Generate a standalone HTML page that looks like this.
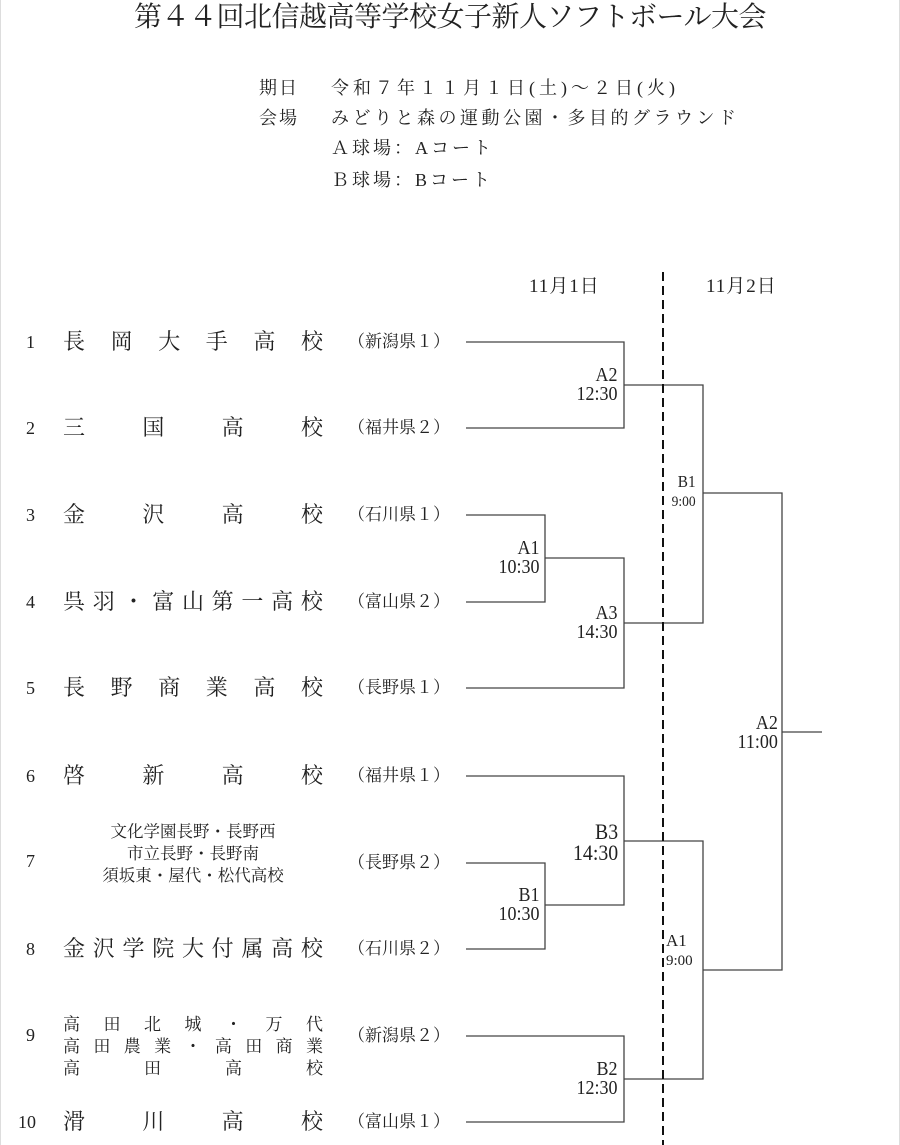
<!DOCTYPE html>
<html><head><meta charset="utf-8"><style>
body{margin:0;background:#fff;}
#p{position:relative;width:900px;height:1145px;overflow:hidden;font-family:"Liberation Serif","Noto Serif CJK SC",serif;color:#222;border-left:1px solid #ddd;border-right:1px solid #ddd;box-sizing:border-box}
.a{position:absolute;white-space:nowrap;line-height:1}
.nm{position:absolute;left:62px;width:260px;display:flex;justify-content:space-between;font-size:22px;line-height:1}
.num{position:absolute;font-size:18px;line-height:1;font-family:"Liberation Serif",serif}
.pf{position:absolute;left:347px;font-size:17px;line-height:1;letter-spacing:0px}
.lb{position:absolute;text-align:right;font-size:20px;line-height:19px;font-family:"Liberation Serif",serif;transform:scaleX(0.9);transform-origin:right}
</style></head><body><div id="p">
<div class="a" style="left:133px;top:4px;font-size:28px;letter-spacing:-0.5px">第４４回北信越高等学校女子新人ソフトボール大会</div>
<div class="a" style="left:258px;top:79px;font-size:18px;letter-spacing:2px">期日</div>
<div class="a" style="left:330px;top:79px;font-size:18px;letter-spacing:4px">令和７年１１月１日(土)～２日(火)</div>
<div class="a" style="left:258px;top:109px;font-size:18px;letter-spacing:2px">会場</div>
<div class="a" style="left:330px;top:109px;font-size:18px;letter-spacing:3.5px">みどりと森の運動公園・多目的グラウンド</div>
<div class="a" style="left:330px;top:139px;font-size:18px;letter-spacing:3px">Ａ球場：Aコート</div>
<div class="a" style="left:330px;top:171px;font-size:18px;letter-spacing:3px">Ｂ球場：Bコート</div>
<div class="a" style="left:528px;top:277px;font-size:19px;letter-spacing:1px">11月1日</div>
<div class="a" style="left:705px;top:277px;font-size:19px;letter-spacing:1px">11月2日</div>

<div class="num" style="left:25px;top:333px">1</div><div class="nm" style="top:331px"><span>長</span><span>岡</span><span>大</span><span>手</span><span>高</span><span>校</span></div><div class="pf" style="top:333px">（新潟県１）</div>
<div class="num" style="left:25px;top:419px">2</div><div class="nm" style="top:417px"><span>三</span><span>国</span><span>高</span><span>校</span></div><div class="pf" style="top:419px">（福井県２）</div>
<div class="num" style="left:25px;top:506px">3</div><div class="nm" style="top:504px"><span>金</span><span>沢</span><span>高</span><span>校</span></div><div class="pf" style="top:506px">（石川県１）</div>
<div class="num" style="left:25px;top:593px">4</div><div class="nm" style="top:591px"><span>呉</span><span>羽</span><span>・</span><span>富</span><span>山</span><span>第</span><span>一</span><span>高</span><span>校</span></div><div class="pf" style="top:593px">（富山県２）</div>
<div class="num" style="left:25px;top:679px">5</div><div class="nm" style="top:677px"><span>長</span><span>野</span><span>商</span><span>業</span><span>高</span><span>校</span></div><div class="pf" style="top:679px">（長野県１）</div>
<div class="num" style="left:25px;top:767px">6</div><div class="nm" style="top:765px"><span>啓</span><span>新</span><span>高</span><span>校</span></div><div class="pf" style="top:767px">（福井県１）</div>
<div class="num" style="left:25px;top:852px">7</div>
<div class="a" style="left:62px;width:260px;top:821px;font-size:16.5px;line-height:22px;text-align:center">文化学園長野・長野西<br>市立長野・長野南<br>須坂東・屋代・松代高校</div>
<div class="pf" style="top:854px">（長野県２）</div>
<div class="num" style="left:25px;top:940px">8</div><div class="nm" style="top:938px"><span>金</span><span>沢</span><span>学</span><span>院</span><span>大</span><span>付</span><span>属</span><span>高</span><span>校</span></div><div class="pf" style="top:940px">（石川県２）</div>
<div class="num" style="left:25px;top:1026px">9</div>
<div class="nm" style="top:1016px;font-size:17px"><span>高</span><span>田</span><span>北</span><span>城</span><span>・</span><span>万</span><span>代</span></div>
<div class="nm" style="top:1038px;font-size:17px"><span>高</span><span>田</span><span>農</span><span>業</span><span>・</span><span>高</span><span>田</span><span>商</span><span>業</span></div>
<div class="nm" style="top:1060px;font-size:17px"><span>高</span><span>田</span><span>高</span><span>校</span></div>
<div class="pf" style="top:1027px">（新潟県２）</div>
<div class="num" style="left:17px;top:1113px">10</div><div class="nm" style="top:1111px"><span>滑</span><span>川</span><span>高</span><span>校</span></div><div class="pf" style="top:1113px">（富山県１）</div>

<svg width="900" height="1145" style="position:absolute;left:0;top:0" fill="none" stroke="#444" stroke-width="1.3">
<path d="M465 342H623V428H465"/>
<path d="M465 515H544V602H465"/>
<path d="M544 558H623V688H465"/>
<path d="M465 776H623V905H544"/>
<path d="M465 863H544V949H465"/>
<path d="M465 1036H623V1122H465"/>
<path d="M623 385H702V623H623"/>
<path d="M623 841H702V1079H623"/>
<path d="M702 493H781V970H702"/>
<path d="M781 732H821"/>
<path d="M662 272V1145" stroke="#111" stroke-width="2" stroke-dasharray="9,5"/>
</svg>

<div class="lb" style="right:281px;top:366px">A2<br>12:30</div>
<div class="lb" style="right:359px;top:539px">A1<br>10:30</div>
<div class="lb" style="right:281px;top:604px">A3<br>14:30</div>
<div class="lb" style="right:203px;top:472px;font-size:17px;line-height:19px">B1<br><span style="font-size:15px">9:00</span></div>
<div class="lb" style="right:121px;top:714px">A2<br>11:00</div>
<div class="lb" style="right:281px;top:821px;font-size:22px;line-height:21px">B3<br>14:30</div>
<div class="lb" style="right:359px;top:886px">B1<br>10:30</div>
<div class="a" style="left:665px;top:931px;font-size:17px;line-height:19px">A1<br><span style="font-size:15px">9:00</span></div>
<div class="lb" style="right:281px;top:1060px">B2<br>12:30</div>
</div></body></html>
